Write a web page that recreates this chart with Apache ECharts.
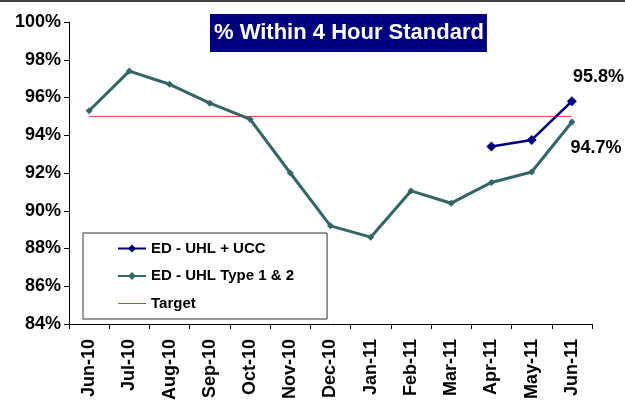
<!DOCTYPE html>
<html>
<head>
<meta charset="utf-8">
<script src="https://cdn.jsdelivr.net/npm/echarts@6/dist/echarts.min.js"></script>
<style>
html,body{margin:0;padding:0;background:#fff;}
#c{width:625px;height:417px;}
</style>
</head>
<body>
<div id="c"></div>
<script>
var categories = ['Jun-10','Jul-10','Aug-10','Sep-10','Oct-10','Nov-10','Dec-10','Jan-11','Feb-11','Mar-11','Apr-11','May-11','Jun-11'];
var uhlUcc = [null,null,null,null,null,null,null,null,null,null,93.4,93.75,95.8];
var uhlType12 = [95.3,97.4,96.7,95.7,94.85,92.0,89.2,88.6,91.05,90.4,91.5,92.05,94.7];
var target = [95,95,95,95,95,95,95,95,95,95,95,95,95];
var yTicks = [84,86,88,90,92,94,96,98,100];

var FONT = 'Liberation Sans, Arial, sans-serif';
var chart = echarts.init(document.getElementById('c'));

function lastLabel(arr, offset) {
  return arr.map(function (v, i) {
    if (i === arr.length - 1) {
      return {value: v, label: {show: true, position: 'right', offset: offset,
        formatter: function (p) { return p.value.toFixed(1) + '%'; },
        fontFamily: FONT, fontWeight: 'bold', fontSize: 18, color: '#000'}};
    }
    return v;
  });
}

chart.setOption({
  animation: false,
  backgroundColor: '#fff',
  title: {
    text: '% Within 4 Hour Standard',
    left: 210, top: 14,
    backgroundColor: '#000080',
    padding: [8, 3, 8, 4],
    textStyle: {color: '#fff', fontFamily: FONT, fontWeight: 'bold', fontSize: 22}
  },
  graphic: [{type: 'rect', shape: {x: 0, y: 0, width: 625, height: 2}, style: {fill: '#404040'}, silent: true}],
  legend: {
    orient: 'vertical',
    left: 83, top: 233,
    padding: [8, 33, 8, 34],
    itemGap: 12.5,
    itemWidth: 28, itemHeight: 10,
    borderColor: '#333', borderWidth: 1,
    backgroundColor: '#fff',
    textStyle: {fontFamily: FONT, fontWeight: 'bold', fontSize: 15, color: '#000'},
    data: ['ED - UHL + UCC', 'ED - UHL Type 1 & 2',
      {name: 'Target', icon: 'path://M0,0 M28,10 M0,4.5 L28,4.5 L28,5.5 L0,5.5 Z'}]
  },
  grid: {left: 69, right: 33, top: 22, bottom: 93, containLabel: false},
  xAxis: {
    type: 'category',
    data: categories,
    boundaryGap: true,
    axisLine: {lineStyle: {color: '#000', width: 1}},
    axisTick: {show: true, alignWithLabel: false, length: 5, lineStyle: {color: '#000'}},
    axisLabel: {rotate: 90, margin: 15, interval: 0, fontFamily: FONT, fontWeight: 'bold', fontSize: 18, color: '#000'}
  },
  yAxis: {
    type: 'value',
    min: yTicks[0], max: yTicks[yTicks.length - 1], interval: 2,
    splitLine: {show: false},
    axisLine: {show: true, lineStyle: {color: '#000', width: 1}},
    axisTick: {show: true, length: 5, lineStyle: {color: '#000'}},
    axisLabel: {margin: 8, fontFamily: FONT, fontWeight: 'bold', fontSize: 18, color: '#000',
      formatter: function (v) { return v + '%'; }}
  },
  series: [
    {
      name: 'Target', type: 'line', data: target,
      symbol: 'none', z: 1,
      lineStyle: {color: '#FF3333', width: 1},
      itemStyle: {color: '#FF3333'}
    },
    {
      name: 'ED - UHL Type 1 & 2', type: 'line', data: lastLabel(uhlType12, [-10, 26]),
      symbol: 'diamond', symbolSize: 7, z: 2,
      lineStyle: {color: '#336666', width: 3},
      itemStyle: {color: '#336666'}
    },
    {
      name: 'ED - UHL + UCC', type: 'line', data: lastLabel(uhlUcc, [-9, -24]),
      symbol: 'diamond', symbolSize: 10, z: 3,
      lineStyle: {color: '#000080', width: 2.5},
      itemStyle: {color: '#000080'}
    }
  ]
});
</script>
</body>
</html>
